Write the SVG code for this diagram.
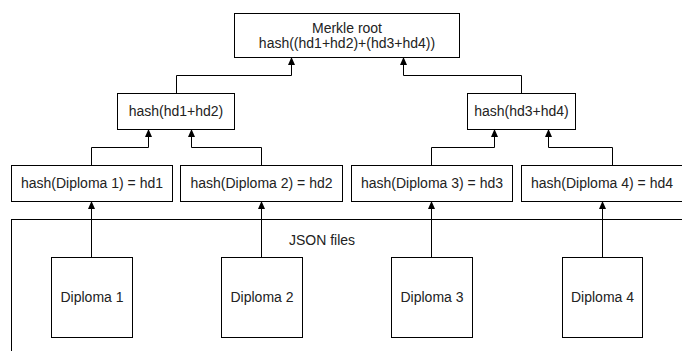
<svg xmlns="http://www.w3.org/2000/svg" width="682" height="351" viewBox="0 0 682 351">
<defs>
<marker id="arr" markerWidth="8" markerHeight="8" viewBox="0 0 8 8" refX="7.5" refY="4" orient="auto" markerUnits="userSpaceOnUse">
<path d="M0,0.5 L8,4 L0,7.5 Z" fill="#000"/>
</marker>
<style>
.box{fill:#fff;stroke:#000;stroke-width:1}
.t{font-family:"Liberation Sans",Arial,sans-serif;font-size:14px;fill:#222;text-anchor:middle}
.c{fill:none;stroke:#000;stroke-width:1;marker-end:url(#arr)}
</style>
</defs>
<rect width="682" height="351" fill="#fff"/>
<g id="json-files">
<rect class="box" x="11.5" y="219.5" width="700" height="200"/>
<text class="t" x="322" y="245">JSON files</text>
</g>
<g id="root">
<rect class="box" x="234.5" y="13.5" width="225" height="44"/>
<text class="t" x="347" y="32.5">Merkle root</text>
<text class="t" x="347" y="48">hash((hd1+hd2)+(hd3+hd4))</text>
</g>
<g id="h12">
<rect class="box" x="117.5" y="93.5" width="117" height="36"/>
<text class="t" x="176" y="116">hash(hd1+hd2)</text>
</g>
<g id="h34">
<rect class="box" x="467.5" y="93.5" width="108" height="36"/>
<text class="t" x="521.5" y="116">hash(hd3+hd4)</text>
</g>
<g id="hd1">
<rect class="box" x="11.5" y="165.5" width="161" height="36"/>
<text class="t" x="92" y="188">hash(Diploma 1) = hd1</text>
</g>
<g id="hd2">
<rect class="box" x="180.5" y="165.5" width="162" height="36"/>
<text class="t" x="261.5" y="188">hash(Diploma 2) = hd2</text>
</g>
<g id="hd3">
<rect class="box" x="351.5" y="165.5" width="161" height="36"/>
<text class="t" x="432" y="188">hash(Diploma 3) = hd3</text>
</g>
<g id="hd4">
<rect class="box" x="521.5" y="165.5" width="182" height="36"/>
<text class="t" x="602" y="188">hash(Diploma 4) = hd4</text>
</g>
<g id="d1">
<rect class="box" x="51.5" y="257.5" width="81" height="80"/>
<text class="t" x="92" y="302">Diploma 1</text>
</g>
<g id="d2">
<rect class="box" x="221.5" y="257.5" width="81" height="80"/>
<text class="t" x="262" y="302">Diploma 2</text>
</g>
<g id="d3">
<rect class="box" x="391.5" y="257.5" width="81" height="80"/>
<text class="t" x="432" y="302">Diploma 3</text>
</g>
<g id="d4">
<rect class="box" x="562.5" y="257.5" width="80" height="80"/>
<text class="t" x="602.5" y="302">Diploma 4</text>
</g>
<g id="connectors">
<path class="c" d="M91.5,257.5 V201.5"/>
<path class="c" d="M261.5,257.5 V201.5"/>
<path class="c" d="M431.5,257.5 V201.5"/>
<path class="c" d="M602.5,257.5 V201.5"/>
<path class="c" d="M91.5,165.5 V147.5 H148.5 V129.5"/>
<path class="c" d="M261.5,165.5 V147.5 H191.5 V129.5"/>
<path class="c" d="M431.5,165.5 V147.5 H494.5 V129.5"/>
<path class="c" d="M612.5,165.5 V147.5 H548.5 V129.5"/>
<path class="c" d="M176.5,93.5 V75.5 H291.5 V57.5"/>
<path class="c" d="M521.5,93.5 V75.5 H403.5 V57.5"/>
</g>
</svg>
